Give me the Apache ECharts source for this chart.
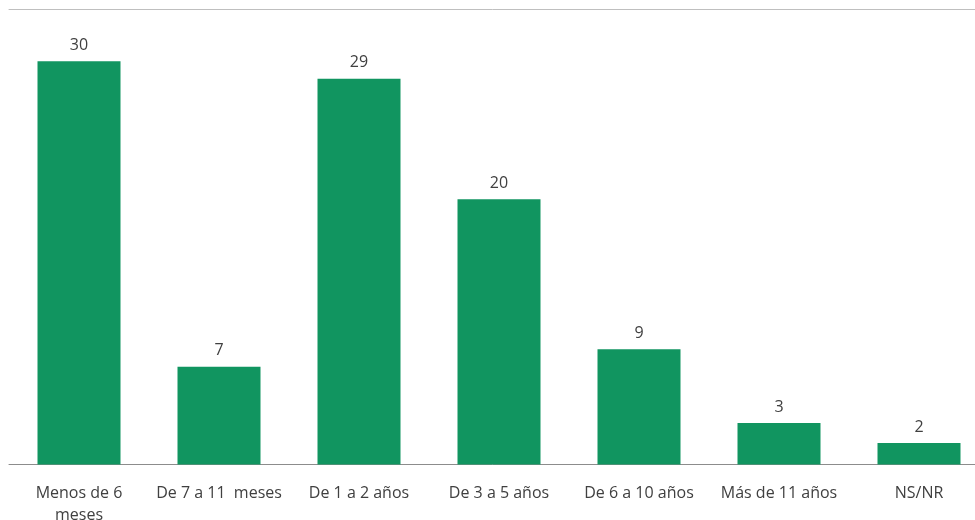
<!DOCTYPE html>
<html>
<head>
<meta charset="utf-8">
<script src="https://cdn.jsdelivr.net/npm/echarts@6/dist/echarts.min.js"></script>
<style>html,body{margin:0;padding:0;background:#fff}#c{width:975px;height:520px}</style>
</head>
<body>
<div id="c"></div>
<script>
const categories = ["Menos de 6\nmeses", "De 7 a 11  meses", "De 1 a 2 años", "De 3 a 5 años", "De 6 a 10 años", "Más de 11 años", "NS/NR"];
const seriesValues = [30.1, 7.3, 28.8, 19.8, 8.6, 3.1, 1.6];
const yMax = 34;

const chart = echarts.init(document.getElementById('c'), null, {renderer: 'canvas'});
const font = 'Open Sans';
chart.setOption({
  animation: false,
  grid: {left: 9, right: -14, top: 9, bottom: 55.5, containLabel: false, outerBoundsMode: 'none'},
  xAxis: [{
    type: 'category',
    data: categories,
    offset: 4,
    axisLine: {show: true, lineStyle: {color: '#8c8c8c', width: 1}},
    axisTick: {show: false},
    axisLabel: {color: '#404040', fontSize: 16, fontFamily: font, margin: 14, lineHeight: 22, interval: 0}
  }, {
    type: 'category',
    position: 'top',
    data: categories,
    axisLine: {show: true, lineStyle: {color: '#bfbfbf', width: 1}},
    axisTick: {show: false},
    axisLabel: {show: false}
  }],
  yAxis: {
    type: 'value', min: 0, max: yMax, show: false, splitLine: {show: false}
  },
  series: [{
    type: 'bar',
    data: seriesValues,
    barWidth: 83,
    itemStyle: {color: '#119560'},
    label: {
      show: true, position: 'top', distance: 8,
      color: '#404040', fontSize: 16, fontFamily: font,
      formatter: p => Math.round(p.value)
    }
  }]
});
</script>
</body>
</html>
